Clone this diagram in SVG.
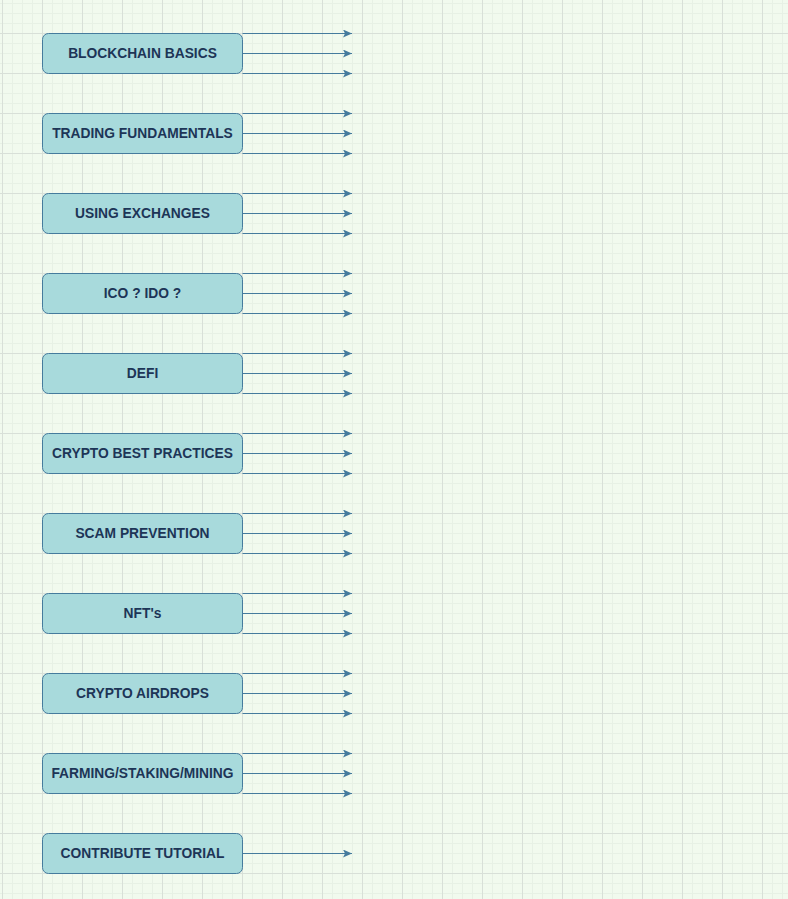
<svg xmlns="http://www.w3.org/2000/svg" width="788" height="899" viewBox="0 0 788 899">
<defs>
<pattern id="minor" x="2" y="3" width="10" height="10" patternUnits="userSpaceOnUse"><path d="M0 0.5H10M0.5 0V10" fill="none" stroke="#e7f1e5" stroke-width="1"/></pattern>
<pattern id="major" x="2" y="-7" width="40" height="40" patternUnits="userSpaceOnUse"><path d="M0 0.5H40M0.5 0V40" fill="none" stroke="#d8e0d8" stroke-width="1"/></pattern>
<marker id="ah" markerWidth="10" markerHeight="8" refX="9" refY="4" orient="auto" markerUnits="userSpaceOnUse"><path d="M0 0L9 4L0 8L2 4Z" fill="#457b9d"/></marker>
</defs>
<style>
.n rect{fill:#a8dadc;stroke:#457b9d;stroke-width:1}
.n text{font-family:"Liberation Sans",Arial,sans-serif;font-weight:bold;font-size:13.8px;fill:#1d3557;text-anchor:middle;dominant-baseline:central}
#edges path{fill:none;stroke:#457b9d;stroke-width:1;marker-end:url(#ah)}
</style>
<rect width="788" height="899" fill="#f1faee"/>
<rect width="788" height="899" fill="url(#minor)"/>
<rect width="788" height="899" fill="url(#major)"/>
<g id="n1" class="n"><rect x="42.5" y="33.5" width="200" height="40" rx="6"/><text x="142.5" y="53.5">BLOCKCHAIN BASICS</text></g>
<g id="n2" class="n"><rect x="42.5" y="113.5" width="200" height="40" rx="6"/><text x="142.5" y="133.5">TRADING FUNDAMENTALS</text></g>
<g id="n3" class="n"><rect x="42.5" y="193.5" width="200" height="40" rx="6"/><text x="142.5" y="213.5">USING EXCHANGES</text></g>
<g id="n4" class="n"><rect x="42.5" y="273.5" width="200" height="40" rx="6"/><text x="142.5" y="293.5">ICO ? IDO ?</text></g>
<g id="n5" class="n"><rect x="42.5" y="353.5" width="200" height="40" rx="6"/><text x="142.5" y="373.5">DEFI</text></g>
<g id="n6" class="n"><rect x="42.5" y="433.5" width="200" height="40" rx="6"/><text x="142.5" y="453.5">CRYPTO BEST PRACTICES</text></g>
<g id="n7" class="n"><rect x="42.5" y="513.5" width="200" height="40" rx="6"/><text x="142.5" y="533.5">SCAM PREVENTION</text></g>
<g id="n8" class="n"><rect x="42.5" y="593.5" width="200" height="40" rx="6"/><text x="142.5" y="613.5">NFT's</text></g>
<g id="n9" class="n"><rect x="42.5" y="673.5" width="200" height="40" rx="6"/><text x="142.5" y="693.5">CRYPTO AIRDROPS</text></g>
<g id="n10" class="n"><rect x="42.5" y="753.5" width="200" height="40" rx="6"/><text x="142.5" y="773.5">FARMING/STAKING/MINING</text></g>
<g id="n11" class="n"><rect x="42.5" y="833.5" width="200" height="40" rx="6"/><text x="142.5" y="853.5">CONTRIBUTE TUTORIAL</text></g>
<g id="edges">
<path d="M242.5 33.5H352"/><path d="M242.5 53.5H352"/><path d="M242.5 73.5H352"/>
<path d="M242.5 113.5H352"/><path d="M242.5 133.5H352"/><path d="M242.5 153.5H352"/>
<path d="M242.5 193.5H352"/><path d="M242.5 213.5H352"/><path d="M242.5 233.5H352"/>
<path d="M242.5 273.5H352"/><path d="M242.5 293.5H352"/><path d="M242.5 313.5H352"/>
<path d="M242.5 353.5H352"/><path d="M242.5 373.5H352"/><path d="M242.5 393.5H352"/>
<path d="M242.5 433.5H352"/><path d="M242.5 453.5H352"/><path d="M242.5 473.5H352"/>
<path d="M242.5 513.5H352"/><path d="M242.5 533.5H352"/><path d="M242.5 553.5H352"/>
<path d="M242.5 593.5H352"/><path d="M242.5 613.5H352"/><path d="M242.5 633.5H352"/>
<path d="M242.5 673.5H352"/><path d="M242.5 693.5H352"/><path d="M242.5 713.5H352"/>
<path d="M242.5 753.5H352"/><path d="M242.5 773.5H352"/><path d="M242.5 793.5H352"/>
<path d="M242.5 853.5H352"/>
</g>
</svg>
